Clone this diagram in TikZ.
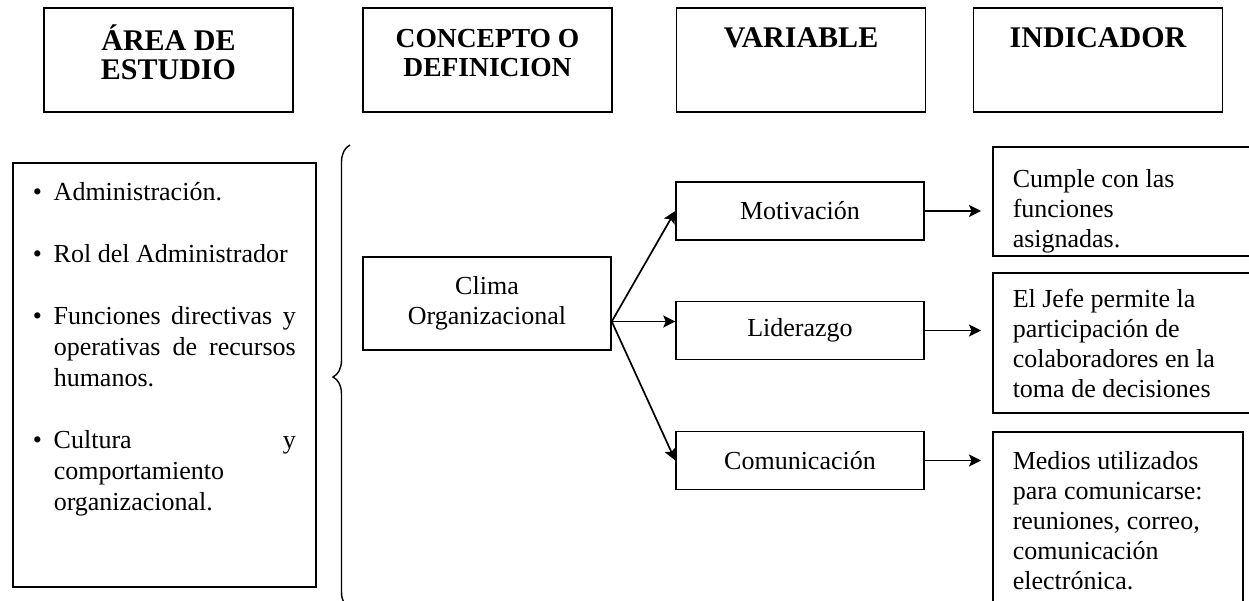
\documentclass[tikz,border=0pt]{standalone}
\usepackage{fontspec}
\setmainfont{Liberation Serif}
\usepackage{tikz}
\usetikzlibrary{arrows,arrows.meta,shapes,positioning,decorations.pathreplacing}

\tikzset{
  head/.style={draw, line width=1.5pt, minimum width=249pt, minimum height=104pt, align=center, font=\fontsize{30}{29}\selectfont\bfseries},
  box/.style={draw, line width=1.5pt, font=\fontsize{26}{30}\selectfont},
  var/.style={box, minimum width=248pt, minimum height=58pt},
  ind/.style={box, anchor=west, align=flush left, inner xsep=20pt}
}
\newcommand{\punto}[1]{\par\noindent\hangindent=21pt\hangafter=1\makebox[21pt][l]{\textbullet}#1\par}

\begin{document}
\begin{tikzpicture}[x=1pt, y=-1pt, node distance=2.5cm, on grid, >={Stealth[length=12pt,width=12pt,inset=2.5pt]}]
        \useasboundingbox (0,0) rectangle (1249,600);
        \clip (0,0) rectangle (1249,600);
        % encabezados
        \node[head]                        (h_0) at (168.5,60)       {ÁREA DE\\ESTUDIO\\[-14pt]\mbox{}};
        \node[head, font=\fontsize{27.5}{29}\selectfont\bfseries]
                                           (h_1) [right=319pt of h_0] {CONCEPTO O\\DEFINICION\\[-14pt]\mbox{}};
        \node[head]                        (h_2) [right=313.5pt of h_1] {VARIABLE\\\mbox{}\\[-14pt]\mbox{}};
        \node[head]                        (h_3) [right=297pt of h_2] {INDICADOR\\\mbox{}\\[-14pt]\mbox{}};

        % area de estudio
        \node[box, anchor=north west, inner xsep=20pt, inner ysep=0pt, font=\fontsize{26}{31}\selectfont]
              (a_0) at (12,162) {\begin{minipage}[c][424pt][t]{263pt}
                \vspace*{20pt}
                \punto{Administración.}\vspace{31pt}
                \punto{Rol del Administrador}\vspace{31pt}
                \punto{Funciones directivas y\linebreak operativas de recursos\linebreak humanos.}\vspace{31pt}
                \punto{Cultura \hfill y\\comportamiento\\organizacional.}
              \end{minipage}};
        \draw[decorate, decoration={brace, amplitude=17pt}, line width=1.4pt] (350,609) -- (350,145);

        % concepto y variables
        \node[box, minimum width=248pt, minimum height=93pt, align=center] (c_0) at (487,303.5) {Clima\\Organizacional};
        \node[var]                         (v_1) at (800,211)          {Motivación};
        \node[var]                         (v_2) [below=119.5pt of v_1] {Liderazgo};
        \node[var]                         (v_3) [below=130pt of v_2]   {Comunicación};
        \coordinate (hub) at ([yshift=-18pt]c_0.east);

        % indicadores
        \node[ind, text width=240pt, minimum height=109pt] (i_1) at (992,201.5) {\rule{0pt}{37pt}Cumple con las\\funciones\\asignadas.};
        \node[ind, text width=240pt, minimum height=140pt] (i_2) at (992,343)   {El Jefe permite la\\participación de\\colaboradores en la\\toma de decisiones};
        \node[ind, text width=210pt, minimum height=178pt] (i_3) at (992,521)   {Medios utilizados\\para comunicarse:\\reuniones, correo,\\comunicación\\electrónica.};

        \path[->, line width=1.7pt]
                (hub) edge (v_1.west)
                (hub) edge (v_2.west |- hub)
                (hub) edge (v_3.west)
                (v_1) edge[shorten >=11pt] (v_1 -| i_1.west)
                (v_2) edge[shorten >=11pt] (v_2 -| i_2.west)
                (v_3) edge[shorten >=11pt] (v_3 -| i_3.west);
\end{tikzpicture}
\end{document}
